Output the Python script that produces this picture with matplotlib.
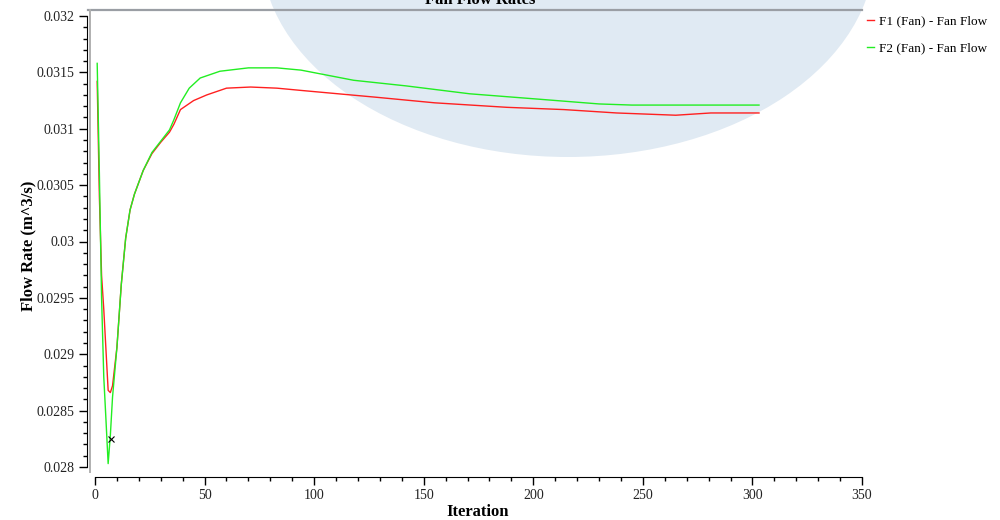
import matplotlib
matplotlib.use('Agg')
import matplotlib.pyplot as plt
from matplotlib.lines import Line2D
from matplotlib.patches import Ellipse
from matplotlib.ticker import MultipleLocator

# Fan flow monitor data
f2_iter = [1, 2, 3, 4, 5, 6, 7, 8, 10, 12, 14, 16, 18, 22, 26, 30, 34, 36, 39, 43, 48,
           57, 70, 83, 94, 118, 142, 171, 204, 230, 245, 303]
f2_flow = [0.03158, 0.0306, 0.0295, 0.0288, 0.02842, 0.02803, 0.02828, 0.02862, 0.02906,
           0.02962, 0.03003, 0.03028, 0.03042, 0.03063, 0.03079, 0.03089, 0.03099, 0.03108,
           0.03123, 0.03136, 0.03145, 0.03151, 0.03154, 0.03154, 0.03152, 0.03143, 0.03138,
           0.03131, 0.03126, 0.03122, 0.03121, 0.03121]

f1_iter = [1, 2, 3, 4, 5, 6, 7, 8, 10, 12, 14, 16, 18, 22, 26, 30, 34, 36, 39, 45, 51,
           60, 71, 83, 94, 128, 155, 188, 214, 238, 265, 281, 303]
f1_flow = [0.03142, 0.0304, 0.0297, 0.0294, 0.02904, 0.02868, 0.02866, 0.02872, 0.02906,
           0.02962, 0.03003, 0.03028, 0.03042, 0.03063, 0.03078, 0.03088, 0.03097, 0.03104,
           0.03117, 0.03125, 0.0313, 0.03136, 0.03137, 0.03136, 0.03134, 0.03128, 0.03123,
           0.03119, 0.03117, 0.03114, 0.03112, 0.03114, 0.03114]

marker_iter = [7.3]
marker_flow = [0.02825]

W, H = 1000, 520
fig = plt.figure(figsize=(W / 100, H / 100), dpi=100)

# watermark shape behind the plot
fig.patches.append(Ellipse((568 / W, 1 + 50 / H), 2 * 307 / W, 2 * 207 / H,
                           transform=fig.transFigure, facecolor='#e0eaf3',
                           edgecolor='none', zorder=0))

ax = fig.add_axes([95 / W, 1 - 467 / H, 767 / W, 451 / H])
ax.set_zorder(2)
ax.patch.set_alpha(0)

ax.plot(f1_iter, f1_flow, color='#ff2020', lw=1, label='F1 (Fan) - Fan Flow')
ax.plot(f2_iter, f2_flow, color='#22ee22', lw=1, label='F2 (Fan) - Fan Flow')
ax.plot(marker_iter, marker_flow, 'x', color='black', ms=5, mew=0.8)

ax.set_xlim(0, 350)
ax.set_ylim(0.028, 0.032)
ax.xaxis.set_major_locator(MultipleLocator(50))
ax.xaxis.set_minor_locator(MultipleLocator(10))
ax.yaxis.set_major_locator(MultipleLocator(0.0005))
ax.yaxis.set_minor_locator(MultipleLocator(0.0001))
ax.set_yticklabels([f'{v:g}' for v in ax.get_yticks()])

for s in ['top', 'right']:
    ax.spines[s].set_visible(False)
ax.spines['left'].set_position(('outward', 6))
ax.spines['bottom'].set_position(('outward', 7))
ax.tick_params(which='major', length=6, width=1, pad=3, labelsize=10, labelcolor='#222')
ax.tick_params(which='minor', length=3, width=1)
for lab in ax.get_xticklabels() + ax.get_yticklabels():
    lab.set_family('Liberation Serif')

# gray frame lines
fig.add_artist(Line2D([88 / W, 862 / W], [1 - 10 / H, 1 - 10 / H], color='#9a9ea4', lw=1.6))
fig.add_artist(Line2D([89.5 / W, 89.5 / W], [1 - 10 / H, 1 - 472 / H], color='#b0b0b0', lw=1.4))

fig.text(28 / W, 1 - 246 / H, 'Flow Rate (m^3/s)', rotation=90, ha='center', va='center',
         family='Liberation Serif', weight='bold', fontsize=12)
fig.text(478 / W, 1 - 512 / H, 'Iteration', ha='center', va='center',
         family='Liberation Serif', weight='bold', fontsize=12)
fig.text(480 / W, 1 - 4 / H, 'Fan Flow Rates', ha='center', va='baseline',
         family='Liberation Serif', weight='bold', fontsize=12)

fig.legend(loc='upper left', bbox_to_anchor=(862 / W, 1 - 10 / H), frameon=False,
           prop={'family': 'Liberation Serif', 'size': 9.5}, handlelength=0.5,
           handletextpad=0.4, labelspacing=1.1, borderaxespad=0)

fig.savefig('out.png', dpi=100)
